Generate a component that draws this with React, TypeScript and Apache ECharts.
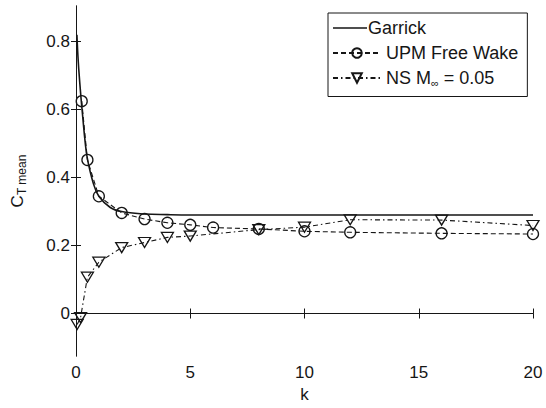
import React, { useEffect, useRef } from "react";
import * as echarts from "echarts";

const garrickK = [0.04, 0.1, 0.2, 0.3, 0.4, 0.5, 0.75, 1, 1.5, 2, 3, 4, 5, 7, 10, 15, 20];
const garrickCT = [0.82, 0.74, 0.65, 0.575, 0.505, 0.455, 0.385, 0.345, 0.312, 0.3, 0.293, 0.291, 0.29, 0.29, 0.29, 0.29, 0.29];

const upmK = [0.25, 0.5, 1, 2, 3, 4, 5, 6, 8, 10, 12, 16, 20];
const upmCT = [0.625, 0.452, 0.345, 0.296, 0.278, 0.267, 0.261, 0.253, 0.249, 0.242, 0.239, 0.236, 0.234];

const nsK = [0.05, 0.2, 0.5, 1, 2, 3, 4, 5, 8, 10, 12, 16, 20];
const nsCT = [-0.032, -0.012, 0.107, 0.151, 0.194, 0.209, 0.224, 0.228, 0.247, 0.254, 0.276, 0.275, 0.259];

const xTicks = [0, 5, 10, 15, 20];
const yTicks = [0, 0.2, 0.4, 0.6, 0.8];

const INK = "#161616";
const FONT = "Liberation Sans, Arial, sans-serif";

export default function App() {
  const ref = useRef<HTMLDivElement>(null);
  useEffect(() => {
    if (!ref.current) return;
    const chart = echarts.init(ref.current, null, { renderer: "svg" });
    const pair = (xs: number[], ys: number[]) => xs.map((x, i) => [x, ys[i]]);
    const tri = "path://M0,0 L12,0 L6,10 Z";
    const shortLine =
      "path://M0,0 L0.01,0 L0.01,0.01 Z M0,5.2 L34,5.2 L34,6.8 L0,6.8 Z M47.99,11.99 L48,11.99 L48,12 Z";
    const axisCommon = {
      type: "value" as const,
      axisLine: { show: true, lineStyle: { color: INK, width: 1 } },
      splitLine: { show: false },
    };
    chart.setOption({
      animation: false,
      backgroundColor: "#fff",
      grid: { left: 76, right: 13, top: 6, bottom: 46 },
      legend: {
        left: 328,
        top: 13,
        orient: "vertical",
        backgroundColor: "#fff",
        borderColor: INK,
        borderWidth: 1,
        borderRadius: 0,
        padding: [6, 9, 8, 4],
        itemWidth: 48,
        itemHeight: 12,
        itemGap: 7,
        data: [
          {
            name: "Garrick",
            icon: shortLine,
            itemStyle: { color: INK, borderWidth: 0 },
            textStyle: { padding: [0, 0, 0, -18] },
          },
          { name: "UPM Free Wake" },
          { name: "NS M∞ = 0.05" },
        ],
        formatter: (name: string) =>
          name === "NS M∞ = 0.05" ? "NS M{sub|∞} = 0.05" : name,
        textStyle: {
          color: INK,
          fontSize: 18,
          fontFamily: FONT,
          rich: {
            sub: { fontSize: 11, fontFamily: FONT, color: INK, padding: [10, 0, 0, 0] },
          },
        },
      },
      xAxis: [
        {
          ...axisCommon,
          min: 0,
          max: 20,
          interval: 5,
          name: "k",
          nameLocation: "middle",
          nameGap: 30,
          nameTextStyle: { color: INK, fontSize: 17, fontFamily: FONT },
          axisTick: { inside: true, length: 5, lineStyle: { color: INK } },
          axisLabel: { color: INK, fontSize: 17, fontFamily: FONT, margin: 8, customValues: xTicks },
        },
        {
          ...axisCommon,
          position: "top",
          min: 0,
          max: 20,
          interval: 5,
          axisTick: { inside: true, length: 5, lineStyle: { color: INK } },
          axisLabel: { show: false },
        },
      ],
      yAxis: [
        {
          ...axisCommon,
          min: -0.125,
          max: 0.905,
          name: "C{sub|T mean}",
          nameLocation: "middle",
          nameGap: 48,
          nameTextStyle: {
            color: INK,
            fontSize: 17,
            fontFamily: FONT,
            rich: { sub: { fontSize: 12, fontFamily: FONT, color: INK, padding: [10, 0, 0, 0] } },
          },
          axisTick: { inside: true, length: 5, customValues: yTicks, lineStyle: { color: INK } },
          axisLabel: {
            color: INK,
            fontSize: 17,
            fontFamily: FONT,
            margin: 6,
            customValues: yTicks,
            formatter: (v: number) => String(Math.round(v * 10) / 10),
          },
        },
        {
          ...axisCommon,
          position: "right",
          min: -0.125,
          max: 0.905,
          axisTick: { inside: true, length: 5, customValues: yTicks, lineStyle: { color: INK } },
          axisLabel: { show: false, customValues: yTicks },
        },
      ],
      series: [
        {
          name: "Garrick",
          type: "line",
          smooth: 0.4,
          symbol: "none",
          data: pair(garrickK, garrickCT),
          lineStyle: { color: INK, width: 1.6 },
          itemStyle: { color: INK },
          z: 3,
        },
        {
          name: "UPM Free Wake",
          type: "line",
          symbol: "circle",
          symbolSize: 11,
          data: pair(upmK, upmCT),
          lineStyle: { color: INK, width: 1.1, type: [5, 3] },
          itemStyle: { color: "rgba(255,255,255,0)", borderColor: INK, borderWidth: 1.3 },
          z: 4,
        },
        {
          name: "NS M∞ = 0.05",
          type: "line",
          symbol: tri,
          symbolSize: [12, 10],
          data: pair(nsK, nsCT),
          lineStyle: { color: INK, width: 1.1, type: [5, 3, 1.5, 3] },
          itemStyle: { color: "rgba(255,255,255,0)", borderColor: INK, borderWidth: 1.3 },
          z: 4,
        },
      ],
    });
    return () => chart.dispose();
  }, []);
  return (
    <div
      ref={ref}
      style={{ position: "absolute", left: 0, top: 0, width: 546, height: 408 }}
    />
  );
}
